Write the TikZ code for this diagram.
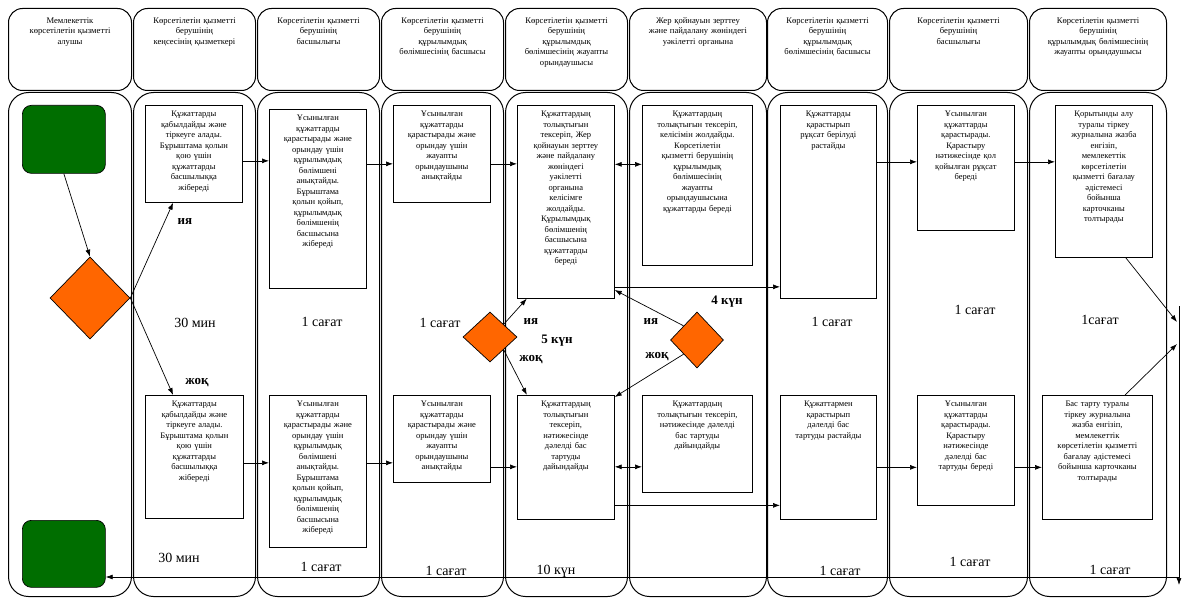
\documentclass[tikz,border=0pt]{standalone}
\usepackage{fontspec}
\setmainfont{Liberation Serif}
\usepackage{tikz}
\usetikzlibrary{shapes.geometric,arrows.meta}

\definecolor{startgreen}{RGB}{0,110,0}
\definecolor{forkorange}{RGB}{255,102,0}
\newcommand{\lanefont}{\fontsize{8.6}{10.6}\selectfont}
\newcommand{\stepfont}{\fontsize{8.5}{10.5}\selectfont}
\newcommand{\durfont}{\fontsize{14}{14}\selectfont}
\newcommand{\branchfont}{\fontsize{13}{13}\selectfont\bfseries}

\begin{document}
\begin{tikzpicture}[x=1pt,y=-1pt,>={Latex[length=7pt,width=5pt]},line width=0.7pt,
  lanehead/.style={draw,rounded corners=14pt,anchor=north west,inner sep=0pt,minimum height=82pt,line width=1pt},
  lanebody/.style={draw,rounded corners=20pt,anchor=north west,inner sep=0pt,minimum height=504pt,line width=1pt},
  headtext/.style={anchor=north,align=center,font=\lanefont,inner sep=0pt,yshift=-9pt,text width=#1},
  stepbox/.style={draw,anchor=north west,inner sep=0pt},
  steptext/.style={anchor=north,align=center,font=\stepfont,inner sep=0pt,yshift=-6pt,text width=#1},
  termbox/.style={draw,fill=startgreen,rounded corners=9pt,anchor=north west,inner sep=0pt,minimum width=83pt},
  forkdiamond/.style={diamond,draw,fill=forkorange,inner sep=0pt},
  durlabel/.style={font=\durfont},
  branchlabel/.style={font=\branchfont}]
\useasboundingbox (0,0) rectangle (1183,599);

% swimlane headers
\path (8,8) node (head1) [lanehead,minimum width=123pt,label={[headtext=116pt]north:{Мемлекеттік\\көрсетілетін қызметті\\алушы}}] {};
\path (133,8) node (head2) [lanehead,minimum width=122pt,label={[headtext=116pt]north:{Көрсетілетін қызметті\\берушінің\\кеңсесінің қызметкері}}] {};
\path (257,8) node (head3) [lanehead,minimum width=122pt,label={[headtext=116pt]north:{Көрсетілетін қызметті\\берушінің\\басшылығы}}] {};
\path (381,8) node (head4) [lanehead,minimum width=122pt,label={[headtext=116pt]north:{Көрсетілетін қызметті\\берушінің\\құрылымдық\\бөлімшесінің басшысы}}] {};
\path (505,8) node (head5) [lanehead,minimum width=122pt,label={[headtext=116pt]north:{Көрсетілетін қызметті\\берушінің\\құрылымдық\\бөлімшесінің жауапты\\орындаушысы}}] {};
\path (629,8) node (head6) [lanehead,minimum width=137pt,label={[headtext=130pt]north:{Жер қойнауын зерттеу\\және пайдалану жөніндегі\\уәкілетті органына}}] {};
\path (767,8) node (head7) [lanehead,minimum width=120pt,label={[headtext=114pt]north:{Көрсетілетін қызметті\\берушінің\\құрылымдық\\бөлімшесінің басшысы}}] {};
\path (889,8) node (head8) [lanehead,minimum width=138pt,label={[headtext=130pt]north:{Көрсетілетін қызметті\\берушінің\\басшылығы}}] {};
\path (1029,8) node (head9) [lanehead,minimum width=137pt,label={[headtext=130pt]north:{Көрсетілетін қызметті\\берушінің\\құрылымдық бөлімшесінің\\жауапты орындаушысы}}] {};

% swimlane bodies
\path (8,92) node (lane1) [lanebody,minimum width=123pt] {};
\path (133,92) node (lane2) [lanebody,minimum width=122pt] {};
\path (257,92) node (lane3) [lanebody,minimum width=122pt] {};
\path (381,92) node (lane4) [lanebody,minimum width=122pt] {};
\path (505,92) node (lane5) [lanebody,minimum width=122pt] {};
\path (629,92) node (lane6) [lanebody,minimum width=137pt] {};
\path (767,92) node (lane7) [lanebody,minimum width=120pt] {};
\path (889,92) node (lane8) [lanebody,minimum width=138pt] {};
\path (1029,92) node (lane9) [lanebody,minimum width=137pt] {};

\path (22,105) node (startbox) [termbox,minimum height=68pt] {};
\path (22,520) node (endbox) [termbox,minimum height=67pt] {};
\path (90,298) node (d1) [forkdiamond,minimum width=80pt,minimum height=82pt] {};
\path (490,337) node (d2) [forkdiamond,minimum width=54pt,minimum height=50pt] {};
\path (697,340) node (d3) [forkdiamond,minimum width=53pt,minimum height=56pt] {};

% upper row
\path (145,105) node (recv1) [stepbox,minimum width=97pt,minimum height=97pt,label={[steptext=93pt]north:{Құжаттарды\\қабылдайды және\\тіркеуге алады.\\Бұрыштама қолын\\қою үшін\\құжаттарды\\басшылыққа\\жібереді}}] {};
\path (269,109) node (dir1) [stepbox,minimum width=97pt,minimum height=179pt,label={[steptext=93pt]north:{Ұсынылған\\құжаттарды\\қарастырады және\\орындау үшін\\құрылымдық\\бөлімшені\\анықтайды.\\Бұрыштама\\қолын қойып,\\құрылымдық\\бөлімшенің\\басшысына\\жібереді}}] {};
\path (393,105) node (asg1) [stepbox,minimum width=97pt,minimum height=97pt,label={[steptext=93pt]north:{Ұсынылған\\құжаттарды\\қарастырады және\\орындау үшін\\жауапты\\орындаушыны\\анықтайды}}] {};
\path (517,105) node (chk1) [stepbox,minimum width=97pt,minimum height=193pt,label={[steptext=93pt]north:{Құжаттардың\\толықтығын\\тексеріп, Жер\\қойнауын зерттеу\\және пайдалану\\жөніндегі\\уәкілетті\\органына\\келісімге\\жолдайды.\\Құрылымдық\\бөлімшенің\\басшысына\\құжаттарды\\береді}}] {};
\path (642,105) node (agr1) [stepbox,minimum width=110pt,minimum height=160pt,label={[steptext=106pt]north:{Құжаттардың\\толықтығын тексеріп,\\келісімін жолдайды.\\Көрсетілетін\\қызметті берушінің\\құрылымдық\\бөлімшесінің\\жауапты\\орындаушысына\\құжаттарды береді}}] {};
\path (780,105) node (apr1) [stepbox,minimum width=96pt,minimum height=193pt,label={[steptext=92pt]north:{Құжаттарды\\қарастырып\\рұқсат берілуді\\растайды}}] {};
\path (917,105) node (sig1) [stepbox,minimum width=97pt,minimum height=125pt,label={[steptext=93pt]north:{Ұсынылған\\құжаттарды\\қарастырады.\\Қарастыру\\нәтижесінде қол\\қойылған рұқсат\\береді}}] {};
\path (1055,105) node (reg1) [stepbox,minimum width=97pt,minimum height=152pt,label={[steptext=93pt]north:{Қорытынды алу\\туралы тіркеу\\журналына жазба\\енгізіп,\\мемлекеттік\\көрсетілетін\\қызметті бағалау\\әдістемесі\\бойынша\\карточканы\\толтырады}}] {};

% lower row
\path (145,395) node (recv2) [stepbox,minimum width=98pt,minimum height=123pt,label={[steptext=94pt]north:{Құжаттарды\\қабылдайды және\\тіркеуге алады.\\Бұрыштама қолын\\қою үшін\\құжаттарды\\басшылыққа\\жібереді}}] {};
\path (269,395) node (dir2) [stepbox,minimum width=97pt,minimum height=152pt,label={[steptext=93pt]north:{Ұсынылған\\құжаттарды\\қарастырады және\\орындау үшін\\құрылымдық\\бөлімшені\\анықтайды.\\Бұрыштама\\қолын қойып,\\құрылымдық\\бөлімшенің\\басшысына\\жібереді}}] {};
\path (393,395) node (asg2) [stepbox,minimum width=97pt,minimum height=87pt,label={[steptext=93pt]north:{Ұсынылған\\құжаттарды\\қарастырады және\\орындау үшін\\жауапты\\орындаушыны\\анықтайды}}] {};
\path (517,395) node (chk2) [stepbox,minimum width=97pt,minimum height=124pt,label={[steptext=93pt]north:{Құжаттардың\\толықтығын\\тексеріп,\\нәтижесінде\\дәлелді бас\\тартуды\\дайындайды}}] {};
\path (642,395) node (agr2) [stepbox,minimum width=110pt,minimum height=97pt,label={[steptext=106pt]north:{Құжаттардың\\толықтығын тексеріп,\\нәтижесінде дәлелді\\бас тартуды\\дайындайды}}] {};
\path (780,395) node (apr2) [stepbox,minimum width=96pt,minimum height=124pt,label={[steptext=92pt]north:{Құжаттармен\\қарастырып\\дәлелді бас\\тартуды растайды}}] {};
\path (917,395) node (sig2) [stepbox,minimum width=97pt,minimum height=110pt,label={[steptext=93pt]north:{Ұсынылған\\құжаттарды\\қарастырады.\\Қарастыру\\нәтижесінде\\дәлелді бас\\тартуды береді}}] {};
\path (1042,395) node (reg2) [stepbox,minimum width=110pt,minimum height=124pt,label={[steptext=106pt]north:{Бас тарту туралы\\тіркеу журналына\\жазба енгізіп,\\мемлекеттік\\көрсетілетін қызметті\\бағалау әдістемесі\\бойынша карточканы\\толтырады}}] {};

% durations and branch marks
\path (195,323) node (dur2a) [durlabel] {30 мин};
\path (179,558) node (dur2b) [durlabel] {30 мин};
\path (322,322) node (dur3a) [durlabel] {1 сағат};
\path (321,567) node (dur3b) [durlabel] {1 сағат};
\path (440,323) node (dur4a) [durlabel] {1 сағат};
\path (446,571) node (dur4b) [durlabel] {1 сағат};
\path (556,571) node (dur5b) [durlabel] {10 күн};
\path (832,322) node (dur7a) [durlabel] {1 сағат};
\path (840,571) node (dur7b) [durlabel] {1 сағат};
\path (975,310) node (dur8a) [durlabel] {1 сағат};
\path (970,562) node (dur8b) [durlabel] {1 сағат};
\path (1100,320) node (dur9a) [durlabel] {1сағат};
\path (1110,570) node (dur9b) [durlabel] {1 сағат};
\path (557,341) node (dur5a) [branchlabel] {5 күн};
\path (727,302) node (dur6a) [branchlabel] {4 күн};
\path (185,222) node (yes1) [branchlabel] {ия};
\path (197,383) node (no1) [branchlabel] {жоқ};
\path (531,322) node (yes2) [branchlabel] {ия};
\path (531,360) node (no2) [branchlabel] {жоқ};
\path (651,322) node (yes3) [branchlabel] {ия};
\path (657,357) node (no3) [branchlabel] {жоқ};

\coordinate (joinA) at (1177,322);
\coordinate (joinB) at (1177,344);
\coordinate (railtop) at (1179,306);
\coordinate (railend) at (1179,585);
\coordinate (back) at (1179,577);

\draw [->] (startbox.south) to (d1.north);
\draw [->] (d1.east) to (recv1.-113);
\draw [->] (d1.east) to (recv2.109);

\draw [->] ([yshift=-7pt]recv1.east) to ([yshift=-7pt]recv1.east -| dir1.west);
\draw [->] ([yshift=-10pt]asg1.west -| dir1.east) to ([yshift=-10pt]asg1.west);
\draw [->] ([yshift=-10pt]asg1.east) to ([yshift=-10pt]asg1.east -| chk1.west);
\draw [<->] ([yshift=21pt]agr1.west -| chk1.east) to ([yshift=21pt]agr1.west);
\draw [->] ([yshift=-85pt]chk1.east) to ([yshift=-85pt]chk1.east -| apr1.west);
\draw [->] ([yshift=6pt]sig1.west -| apr1.east) to ([yshift=6pt]sig1.west);
\draw [->] ([yshift=6pt]sig1.east) to ([yshift=6pt]sig1.east -| reg1.west);

\draw [->] ([yshift=-6pt]recv2.east) to ([yshift=-6pt]recv2.east -| dir2.west);
\draw [->] ([yshift=-24pt]asg2.west -| dir2.east) to ([yshift=-24pt]asg2.west);
\draw [->] ([yshift=-28pt]asg2.east) to ([yshift=-28pt]asg2.east -| chk2.west);
\draw [<->] ([yshift=-23pt]agr2.west -| chk2.east) to ([yshift=-23pt]agr2.west);
\draw [->] ([yshift=-48pt]chk2.east) to ([yshift=-48pt]chk2.east -| apr2.west);
\draw [->] ([yshift=-17pt]sig2.west -| apr2.east) to ([yshift=-17pt]sig2.west);
\draw [->] ([yshift=-17pt]sig2.east) to ([yshift=-17pt]sig2.east -| reg2.west);

\draw [->] (d2.north east) to (chk1.-112);
\draw [->] (d2.south east) to (chk2.122);
\draw [->] (d3.north west) to (chk1.-61);
\draw [->] (d3.south west) to (chk2.51);

\draw [->] (reg1.-74) to (joinA);
\draw [->] (reg2.66) to (joinB);
\draw [->] (railtop) to (railend);
\draw [->] (back) to (back -| endbox.east);
\end{tikzpicture}
\end{document}
